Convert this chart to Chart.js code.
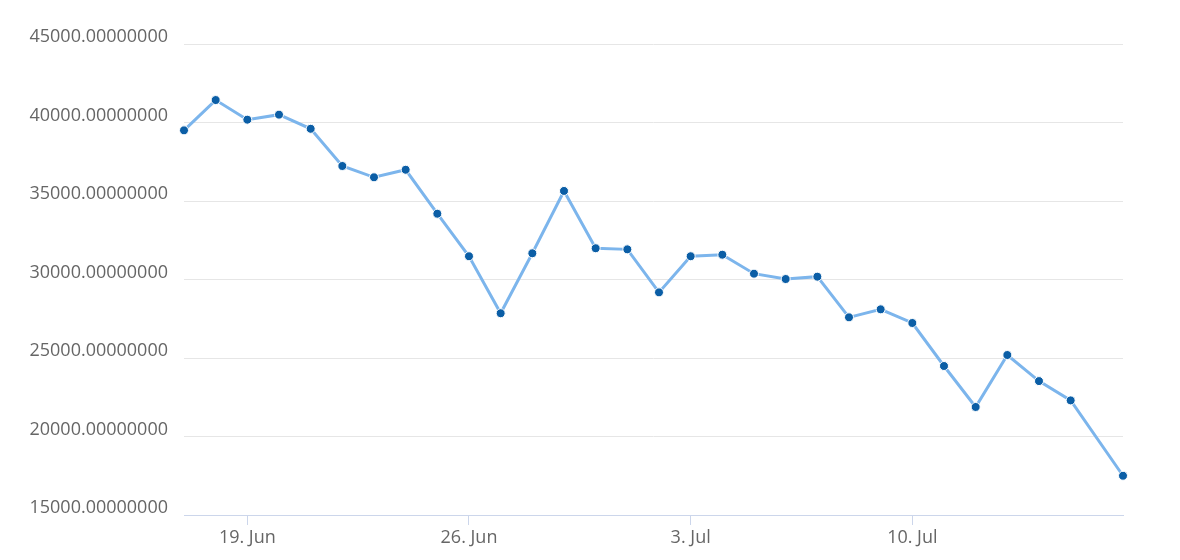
<!DOCTYPE html>
<html>
<head>
<meta charset="utf-8">
<script src="https://cdn.jsdelivr.net/npm/chart.js@4.4.0/dist/chart.umd.min.js"></script>
<style>
  html, body { margin: 0; padding: 0; background: #fff; }
  #wrap { width: 1180px; height: 560px; }
</style>
</head>
<body>
<div id="wrap"><canvas id="myChart" width="1180" height="560"></canvas></div>
<script>
'use strict';

// dates of the points (last one is an intraday value)
let pointDates = [
    '2023-06-17', '2023-06-18', '2023-06-19', '2023-06-20', '2023-06-21',
    '2023-06-22', '2023-06-23', '2023-06-24', '2023-06-25', '2023-06-26',
    '2023-06-27', '2023-06-28', '2023-06-29', '2023-06-30', '2023-07-01',
    '2023-07-02', '2023-07-03', '2023-07-04', '2023-07-05', '2023-07-06',
    '2023-07-07', '2023-07-08', '2023-07-09', '2023-07-10', '2023-07-11',
    '2023-07-12', '2023-07-13', '2023-07-14', '2023-07-15', '2023-07-16T15:40'
];

let pointValues = [
    39500, 41430, 40180, 40500, 39600,
    37230, 36510, 36990, 34190, 31480,
    27850, 31670, 35640, 31990, 31920,
    29180, 31480, 31580, 30370, 30030,
    30180, 27590, 28100, 27230, 24490,
    21880, 25190, 23530, 22300, 17500
];

let xTickDates = ['2023-06-19', '2023-06-26', '2023-07-03', '2023-07-10'];
let xTickLabels = ['19. Jun', '26. Jun', '3. Jul', '10. Jul'];

let yMin = 15000;
let yMax = 45000;
let yStep = 5000;

function toTime(s) {
    let parts = s.split('T');
    let d = parts[0].split('-');
    let h = 0, m = 0;
    if (parts[1]) {
        let t = parts[1].split(':');
        h = +t[0];
        m = +t[1];
    }
    return Date.UTC(+d[0], +d[1] - 1, +d[2], h, m);
}

let points = [];
for (let i = 0; i < pointDates.length; i++) {
    points.push({ x: toTime(pointDates[i]), y: pointValues[i] });
}
let tickTimes = xTickDates.map(toTime);

let labelFont = { family: "'Open Sans', sans-serif", size: 18 };

var ctx = document.getElementById('myChart').getContext('2d');
var chart = new Chart(ctx, {
    type: 'line',
    data: {
        datasets: [{
            label: 'price',
            data: points,
            borderColor: '#7cb5ec',
            borderWidth: 3,
            pointRadius: 4.5,
            pointBackgroundColor: '#0b5ea6',
            pointBorderColor: '#ffffff',
            pointBorderWidth: 1,
            tension: 0,
            clip: false
        }]
    },
    options: {
        responsive: false,
        animation: false,
        layout: { padding: { top: 44, right: 57, bottom: 0, left: 0 } },
        plugins: {
            legend: { display: false },
            tooltip: { enabled: false }
        },
        scales: {
            x: {
                type: 'linear',
                min: points[0].x,
                max: points[points.length - 1].x,
                afterBuildTicks: function (scale) {
                    scale.ticks = tickTimes.map(function (t) { return { value: t }; });
                },
                afterFit: function (scale) { scale.height = 45; },
                ticks: {
                    font: labelFont,
                    color: '#666666',
                    padding: 2,
                    maxRotation: 0,
                    autoSkip: false,
                    callback: function (value) {
                        let idx = tickTimes.indexOf(value);
                        return idx >= 0 ? xTickLabels[idx] : '';
                    }
                },
                grid: {
                    drawOnChartArea: false,
                    drawTicks: true,
                    tickLength: 10,
                    color: '#ccd6eb'
                },
                border: { display: true, color: '#ccd6eb', width: 1 }
            },
            y: {
                min: yMin,
                max: yMax,
                afterFit: function (scale) { scale.width = 184; },
                ticks: {
                    stepSize: yStep,
                    font: labelFont,
                    color: '#666666',
                    padding: 16,
                    labelOffset: -7,
                    callback: function (value) { return value.toFixed(8); }
                },
                grid: {
                    color: '#e6e6e6',
                    drawTicks: false
                },
                border: { display: false }
            }
        }
    }
});
</script>
</body>
</html>
